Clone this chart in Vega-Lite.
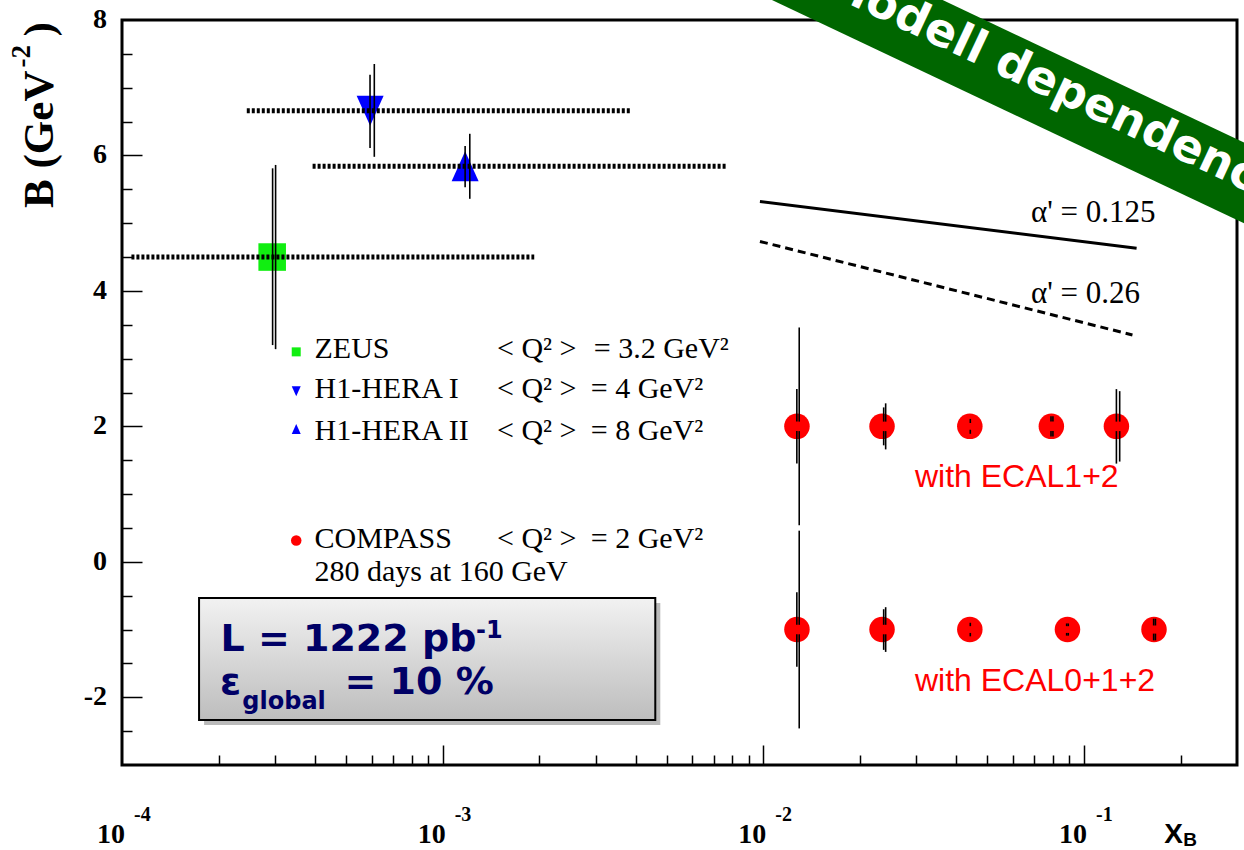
{
  "$schema": "https://vega.github.io/schema/vega-lite/v6.json",
  "width": 1115,
  "height": 745,
  "autosize": {"type": "none"},
  "padding": {"left": 122, "top": 20, "right": 7, "bottom": 85},
  "background": "white",
  "config": {
    "view": {"stroke": "black", "strokeWidth": 3},
    "axis": {"grid": false, "domain": false}
  },
  "data": {"values": [{}]},
  "datasets": {
    "hera": [
      {"exp": "ZEUS", "x": 0.000294, "y": 4.5},
      {"exp": "H1-HERA I", "x": 0.000594, "y": 6.66},
      {"exp": "H1-HERA II", "x": 0.001175, "y": 5.84}
    ],
    "ranges": [
      {"exp": "ZEUS", "x1": 0.000107, "x2": 0.00193, "y": 4.5},
      {"exp": "H1-HERA I", "x1": 0.000245, "x2": 0.00386, "y": 6.66},
      {"exp": "H1-HERA II", "x1": 0.000393, "x2": 0.00767, "y": 5.84}
    ],
    "compass": [
      {"set": "ECAL1+2", "x": 0.01273, "y": 2},
      {"set": "ECAL1+2", "x": 0.02345, "y": 2},
      {"set": "ECAL1+2", "x": 0.04405, "y": 2},
      {"set": "ECAL1+2", "x": 0.0791, "y": 2},
      {"set": "ECAL1+2", "x": 0.1262, "y": 2},
      {"set": "ECAL0+1+2", "x": 0.01273, "y": -1},
      {"set": "ECAL0+1+2", "x": 0.02345, "y": -1},
      {"set": "ECAL0+1+2", "x": 0.04405, "y": -1},
      {"set": "ECAL0+1+2", "x": 0.0888, "y": -1},
      {"set": "ECAL0+1+2", "x": 0.1653, "y": -1}
    ],
    "errs": [
      {"x": 0.0002949, "lo": 3.20, "hi": 5.81},
      {"x": 0.0003013, "lo": 3.14, "hi": 5.86},
      {"x": 0.0005936, "lo": 6.11, "hi": 7.19},
      {"x": 0.0006121, "lo": 5.98, "hi": 7.35},
      {"x": 0.001175, "lo": 5.53, "hi": 6.14},
      {"x": 0.001215, "lo": 5.36, "hi": 6.32},
      {"x": 0.01294, "lo": 0.54, "hi": 1.93},
      {"x": 0.01294, "lo": 2.07, "hi": 3.46},
      {"x": 0.01272, "lo": 1.45, "hi": 1.93},
      {"x": 0.01272, "lo": 2.07, "hi": 2.55},
      {"x": 0.02373, "lo": 1.72, "hi": 1.93},
      {"x": 0.02373, "lo": 2.07, "hi": 2.28},
      {"x": 0.02407, "lo": 1.66, "hi": 1.93},
      {"x": 0.02407, "lo": 2.07, "hi": 2.34},
      {"x": 0.0442, "lo": 1.89, "hi": 1.95},
      {"x": 0.0442, "lo": 2.05, "hi": 2.11},
      {"x": 0.0789, "lo": 1.85, "hi": 1.93},
      {"x": 0.0789, "lo": 2.07, "hi": 2.15},
      {"x": 0.0800, "lo": 1.85, "hi": 1.93},
      {"x": 0.0800, "lo": 2.07, "hi": 2.15},
      {"x": 0.1262, "lo": 1.45, "hi": 1.93},
      {"x": 0.1262, "lo": 2.07, "hi": 2.55},
      {"x": 0.1292, "lo": 1.48, "hi": 1.93},
      {"x": 0.1292, "lo": 2.07, "hi": 2.52},
      {"x": 0.01294, "lo": -2.46, "hi": -1.07},
      {"x": 0.01294, "lo": -0.93, "hi": 0.46},
      {"x": 0.01272, "lo": -1.55, "hi": -1.07},
      {"x": 0.01272, "lo": -0.93, "hi": -0.45},
      {"x": 0.02373, "lo": -1.30, "hi": -1.07},
      {"x": 0.02373, "lo": -0.93, "hi": -0.70},
      {"x": 0.02407, "lo": -1.33, "hi": -1.07},
      {"x": 0.02407, "lo": -0.93, "hi": -0.67},
      {"x": 0.0442, "lo": -1.10, "hi": -1.05},
      {"x": 0.0442, "lo": -0.95, "hi": -0.90},
      {"x": 0.0883, "lo": -1.09, "hi": -1.05},
      {"x": 0.0883, "lo": -0.95, "hi": -0.91},
      {"x": 0.0893, "lo": -1.09, "hi": -1.05},
      {"x": 0.0893, "lo": -0.95, "hi": -0.91},
      {"x": 0.1649, "lo": -1.16, "hi": -1.06},
      {"x": 0.1649, "lo": -0.94, "hi": -0.84},
      {"x": 0.1670, "lo": -1.16, "hi": -1.06},
      {"x": 0.1670, "lo": -0.94, "hi": -0.84}
    ],
    "model": [
      {"a": "0.125", "x": 0.00976, "y": 5.32},
      {"a": "0.125", "x": 0.1459, "y": 4.63},
      {"a": "0.26", "x": 0.00976, "y": 4.73},
      {"a": "0.26", "x": 0.1416, "y": 3.35}
    ],
    "decades": [
      {"v": 0.0001, "e": "-4"},
      {"v": 0.001, "e": "-3"},
      {"v": 0.01, "e": "-2"},
      {"v": 0.1, "e": "-1"}
    ],
    "ylabels": [
      {"v": -2, "t": "-2"},
      {"v": 0, "t": "0"},
      {"v": 2, "t": "2"},
      {"v": 4, "t": "4"},
      {"v": 6, "t": "6"},
      {"v": 8, "t": "8"}
    ]
  },
  "layer": [
    {
      "data": {"name": "hera"},
      "transform": [{"filter": "datum.exp == 'ZEUS'"}],
      "mark": {"type": "point", "shape": "square", "filled": true, "color": "#11ee11", "opacity": 1, "size": 760},
      "encoding": {
        "x": {
          "field": "x", "type": "quantitative",
          "scale": {"type": "log", "domain": [0.0001, 0.3], "nice": false},
          "axis": {
            "title": null,
            "values": [0.0002, 0.0003, 0.0004, 0.0005, 0.0006, 0.0007, 0.0008, 0.0009, 0.001, 0.002, 0.003, 0.004, 0.005, 0.006, 0.007, 0.008, 0.009, 0.01, 0.02, 0.03, 0.04, 0.05, 0.06, 0.07, 0.08, 0.09, 0.1, 0.2],
            "tickCount": 100,
            "labels": false,
            "tickColor": "black",
            "tickWidth": 1.5,
            "tickSize": {"condition": {"test": "datum.value == 0.001 || datum.value == 0.01 || datum.value == 0.1", "value": -20}, "value": -10}
          }
        },
        "y": {
          "field": "y", "type": "quantitative",
          "scale": {"domain": [-3, 8], "nice": false, "zero": false},
          "axis": {
            "title": null,
            "values": [-2.5, -2, -1.5, -1, -0.5, 0, 0.5, 1, 1.5, 2, 2.5, 3, 3.5, 4, 4.5, 5, 5.5, 6, 6.5, 7, 7.5],
            "tickCount": 100,
            "labels": false,
            "tickColor": "black",
            "tickWidth": 1.5,
            "tickSize": {"condition": {"test": "datum.value == -2 || datum.value == 0 || datum.value == 2 || datum.value == 4 || datum.value == 6", "value": -20}, "value": -10}
          }
        }
      }
    },
    {
      "data": {"name": "hera"},
      "transform": [{"filter": "datum.exp == 'H1-HERA I'"}],
      "mark": {"type": "point", "shape": "M-0.9,-1L0.9,-1L0,1Z", "filled": true, "color": "#0000ff", "opacity": 1, "size": 900},
      "encoding": {"x": {"field": "x", "type": "quantitative"}, "y": {"field": "y", "type": "quantitative"}}
    },
    {
      "data": {"name": "hera"},
      "transform": [{"filter": "datum.exp == 'H1-HERA II'"}],
      "mark": {"type": "point", "shape": "M-0.9,1L0.9,1L0,-1Z", "filled": true, "color": "#0000ff", "opacity": 1, "size": 900},
      "encoding": {"x": {"field": "x", "type": "quantitative"}, "y": {"field": "y", "type": "quantitative"}}
    },
    {
      "data": {"name": "compass"},
      "mark": {"type": "point", "shape": "circle", "filled": true, "color": "#ff0000", "opacity": 1, "size": 650},
      "encoding": {"x": {"field": "x", "type": "quantitative"}, "y": {"field": "y", "type": "quantitative"}}
    },
    {
      "data": {"name": "ranges"},
      "mark": {"type": "rule", "color": "black", "strokeWidth": 5, "strokeDash": [3, 2]},
      "encoding": {
        "x": {"field": "x1", "type": "quantitative"},
        "x2": {"field": "x2"},
        "y": {"field": "y", "type": "quantitative"}
      }
    },
    {
      "data": {"name": "errs"},
      "mark": {"type": "rule", "color": "black", "strokeWidth": 1.6},
      "encoding": {
        "x": {"field": "x", "type": "quantitative"},
        "y": {"field": "lo", "type": "quantitative"},
        "y2": {"field": "hi"}
      }
    },
    {
      "data": {"name": "model"},
      "transform": [{"filter": "datum.a == '0.125'"}],
      "mark": {"type": "line", "color": "black", "strokeWidth": 3},
      "encoding": {"x": {"field": "x", "type": "quantitative"}, "y": {"field": "y", "type": "quantitative"}}
    },
    {
      "data": {"name": "model"},
      "transform": [{"filter": "datum.a == '0.26'"}],
      "mark": {"type": "line", "color": "black", "strokeWidth": 3, "strokeDash": [8, 5]},
      "encoding": {"x": {"field": "x", "type": "quantitative"}, "y": {"field": "y", "type": "quantitative"}}
    },
    {
      "mark": {"type": "text", "text": "α' = 0.125", "font": "Liberation Serif", "fontSize": 31, "align": "left", "baseline": "alphabetic", "color": "black"},
      "encoding": {"x": {"datum": 0.06831}, "y": {"datum": 5.024}}
    },
    {
      "mark": {"type": "text", "text": "α' = 0.26", "font": "Liberation Serif", "fontSize": 31, "align": "left", "baseline": "alphabetic", "color": "black"},
      "encoding": {"x": {"datum": 0.06831}, "y": {"datum": 3.817}}
    },
    {
      "mark": {"type": "point", "shape": "square", "filled": true, "color": "#11ee11", "opacity": 1, "size": 81},
      "encoding": {"x": {"datum": 0.0003494}, "y": {"datum": 3.10}}
    },
    {
      "mark": {"type": "point", "shape": "M-0.9,-1L0.9,-1L0,1Z", "filled": true, "color": "#0000ff", "opacity": 1, "size": 100},
      "encoding": {"x": {"datum": 0.0003494}, "y": {"datum": 2.52}}
    },
    {
      "mark": {"type": "point", "shape": "M-0.9,1L0.9,1L0,-1Z", "filled": true, "color": "#0000ff", "opacity": 1, "size": 100},
      "encoding": {"x": {"datum": 0.0003494}, "y": {"datum": 1.96}}
    },
    {
      "mark": {"type": "point", "shape": "circle", "filled": true, "color": "#ff0000", "opacity": 1, "size": 110},
      "encoding": {"x": {"datum": 0.0003494}, "y": {"datum": 0.315}}
    },
    {
      "mark": {"type": "text", "text": "ZEUS", "font": "Liberation Serif", "fontSize": 30, "align": "left", "baseline": "alphabetic", "color": "black"},
      "encoding": {"x": {"datum": 0.0003984}, "y": {"datum": 3.007}}
    },
    {
      "mark": {"type": "text", "text": "H1-HERA I", "font": "Liberation Serif", "fontSize": 30, "align": "left", "baseline": "alphabetic", "color": "black"},
      "encoding": {"x": {"datum": 0.0003984}, "y": {"datum": 2.416}}
    },
    {
      "mark": {"type": "text", "text": "H1-HERA II", "font": "Liberation Serif", "fontSize": 30, "align": "left", "baseline": "alphabetic", "color": "black"},
      "encoding": {"x": {"datum": 0.0003984}, "y": {"datum": 1.795}}
    },
    {
      "mark": {"type": "text", "text": "COMPASS", "font": "Liberation Serif", "fontSize": 30, "align": "left", "baseline": "alphabetic", "color": "black"},
      "encoding": {"x": {"datum": 0.0003984}, "y": {"datum": 0.197}}
    },
    {
      "mark": {"type": "text", "text": "280 days at 160 GeV", "font": "Liberation Serif", "fontSize": 30, "align": "left", "baseline": "alphabetic", "color": "black"},
      "encoding": {"x": {"datum": 0.0003984}, "y": {"datum": -0.277}}
    },
    {
      "mark": {"type": "text", "text": "< Q² >", "font": "Liberation Serif", "fontSize": 30, "align": "left", "baseline": "alphabetic", "color": "black"},
      "encoding": {"x": {"datum": 0.001477}, "y": {"datum": 3.007}}
    },
    {
      "mark": {"type": "text", "text": "< Q² >", "font": "Liberation Serif", "fontSize": 30, "align": "left", "baseline": "alphabetic", "color": "black"},
      "encoding": {"x": {"datum": 0.001477}, "y": {"datum": 2.416}}
    },
    {
      "mark": {"type": "text", "text": "< Q² >", "font": "Liberation Serif", "fontSize": 30, "align": "left", "baseline": "alphabetic", "color": "black"},
      "encoding": {"x": {"datum": 0.001477}, "y": {"datum": 1.795}}
    },
    {
      "mark": {"type": "text", "text": "< Q² >", "font": "Liberation Serif", "fontSize": 30, "align": "left", "baseline": "alphabetic", "color": "black"},
      "encoding": {"x": {"datum": 0.001477}, "y": {"datum": 0.197}}
    },
    {
      "mark": {"type": "text", "text": "= 3.2 GeV²", "font": "Liberation Serif", "fontSize": 30, "align": "left", "baseline": "alphabetic", "color": "black"},
      "encoding": {"x": {"datum": 0.002959}, "y": {"datum": 3.007}}
    },
    {
      "mark": {"type": "text", "text": "= 4 GeV²", "font": "Liberation Serif", "fontSize": 30, "align": "left", "baseline": "alphabetic", "color": "black"},
      "encoding": {"x": {"datum": 0.002896}, "y": {"datum": 2.416}}
    },
    {
      "mark": {"type": "text", "text": "= 8 GeV²", "font": "Liberation Serif", "fontSize": 30, "align": "left", "baseline": "alphabetic", "color": "black"},
      "encoding": {"x": {"datum": 0.002896}, "y": {"datum": 1.795}}
    },
    {
      "mark": {"type": "text", "text": "= 2 GeV²", "font": "Liberation Serif", "fontSize": 30, "align": "left", "baseline": "alphabetic", "color": "black"},
      "encoding": {"x": {"datum": 0.002896}, "y": {"datum": 0.197}}
    },
    {
      "mark": {"type": "text", "text": "with ECAL1+2", "font": "Liberation Sans", "fontSize": 32, "align": "left", "baseline": "alphabetic", "color": "#ff0000"},
      "encoding": {"x": {"datum": 0.02971}, "y": {"datum": 1.099}}
    },
    {
      "mark": {"type": "text", "text": "with ECAL0+1+2", "font": "Liberation Sans", "fontSize": 32, "align": "left", "baseline": "alphabetic", "color": "#ff0000"},
      "encoding": {"x": {"datum": 0.02971}, "y": {"datum": -1.904}}
    },
    {
      "mark": {"type": "rect", "color": "#666666", "opacity": 0.45},
      "encoding": {"x": {"datum": 0.0001803}, "x2": {"datum": 0.004772}, "y": {"datum": -0.607}, "y2": {"datum": -2.411}}
    },
    {
      "mark": {
        "type": "rect",
        "fill": {"gradient": "linear", "x1": 0, "y1": 0, "x2": 0, "y2": 1, "stops": [{"offset": 0, "color": "#f2f2f2"}, {"offset": 1, "color": "#bdbdbd"}]},
        "stroke": "black", "strokeWidth": 2, "opacity": 1
      },
      "encoding": {"x": {"datum": 0.0001739}, "x2": {"datum": 0.004603}, "y": {"datum": -0.533}, "y2": {"datum": -2.337}}
    },
    {
      "mark": {"type": "text", "text": "L = 1222 pb", "font": "DejaVu Sans", "fontWeight": "bold", "fontSize": 38, "align": "left", "baseline": "alphabetic", "color": "#000066"},
      "encoding": {"x": {"datum": 0.0002028}, "y": {"datum": -1.312}}
    },
    {
      "mark": {"type": "text", "text": "-1", "font": "DejaVu Sans", "fontWeight": "bold", "fontSize": 24, "align": "left", "baseline": "alphabetic", "color": "#000066"},
      "encoding": {"x": {"datum": 0.001271}, "y": {"datum": -1.12}}
    },
    {
      "mark": {"type": "text", "text": "ε", "font": "DejaVu Sans", "fontWeight": "bold", "fontSize": 38, "align": "left", "baseline": "alphabetic", "color": "#000066"},
      "encoding": {"x": {"datum": 0.000202}, "y": {"datum": -1.948}}
    },
    {
      "mark": {"type": "text", "text": "global", "font": "DejaVu Sans", "fontWeight": "bold", "fontSize": 24, "align": "left", "baseline": "alphabetic", "color": "#000066"},
      "encoding": {"x": {"datum": 0.0002373}, "y": {"datum": -2.17}}
    },
    {
      "mark": {"type": "text", "text": "= 10 %", "font": "DejaVu Sans", "fontWeight": "bold", "fontSize": 38, "align": "left", "baseline": "alphabetic", "color": "#000066"},
      "encoding": {"x": {"datum": 0.000494}, "y": {"datum": -1.948}}
    },
    {
      "data": {"name": "decades"},
      "mark": {"type": "text", "text": "10", "font": "Liberation Serif", "fontWeight": "bold", "fontSize": 28, "align": "right", "baseline": "alphabetic", "dx": 3, "color": "black"},
      "encoding": {"x": {"field": "v", "type": "quantitative"}, "y": {"datum": -4.148}}
    },
    {
      "data": {"name": "decades"},
      "mark": {"type": "text", "font": "Liberation Serif", "fontWeight": "bold", "fontSize": 20, "align": "left", "baseline": "alphabetic", "dx": 12, "color": "black"},
      "encoding": {"x": {"field": "v", "type": "quantitative"}, "y": {"datum": -3.827}, "text": {"field": "e"}}
    },
    {
      "data": {"name": "ylabels"},
      "mark": {"type": "text", "font": "Liberation Serif", "fontWeight": "bold", "fontSize": 28, "align": "right", "baseline": "middle", "dx": -15, "color": "black"},
      "encoding": {"x": {"datum": 0.0001}, "y": {"field": "v", "type": "quantitative"}, "text": {"field": "t"}}
    },
    {
      "mark": {"type": "text", "text": "X", "font": "Liberation Sans", "fontWeight": "bold", "fontSize": 28, "align": "left", "baseline": "alphabetic", "color": "black"},
      "encoding": {"x": {"datum": 0.178}, "y": {"datum": -4.152}}
    },
    {
      "mark": {"type": "text", "text": "B", "font": "Liberation Sans", "fontWeight": "bold", "fontSize": 19, "align": "left", "baseline": "alphabetic", "color": "black"},
      "encoding": {"x": {"datum": 0.2039}, "y": {"datum": -4.197}}
    },
    {
      "mark": {"type": "text", "text": "B (GeV", "font": "Liberation Serif", "fontWeight": "bold", "fontSize": 43, "align": "left", "baseline": "alphabetic", "angle": 270, "color": "black"},
      "encoding": {"x": {"datum": 0.000061}, "y": {"datum": 5.226}}
    },
    {
      "mark": {"type": "text", "text": "-2", "font": "Liberation Serif", "fontWeight": "bold", "fontSize": 27, "align": "left", "baseline": "alphabetic", "angle": 270, "color": "black"},
      "encoding": {"x": {"datum": 0.0000518}, "y": {"datum": 7.297}}
    },
    {
      "mark": {"type": "text", "text": ")", "font": "Liberation Serif", "fontWeight": "bold", "fontSize": 43, "align": "left", "baseline": "alphabetic", "angle": 270, "color": "black"},
      "encoding": {"x": {"datum": 0.000061}, "y": {"datum": 7.756}}
    },
    {
      "mark": {"type": "rule", "color": "#006600", "strokeWidth": 73, "strokeCap": "butt"},
      "encoding": {"x": {"datum": 0.004388}, "y": {"datum": 9.753}, "x2": {"datum": 0.9443}, "y2": {"datum": 4.527}}
    },
    {
      "mark": {"type": "text", "text": "Modell dependence", "font": "DejaVu Sans", "fontWeight": "bold", "fontSize": 46, "align": "left", "baseline": "alphabetic", "angle": 25.2, "color": "white"},
      "encoding": {"x": {"datum": 0.01515}, "y": {"datum": 8.429}}
    }
  ]
}
